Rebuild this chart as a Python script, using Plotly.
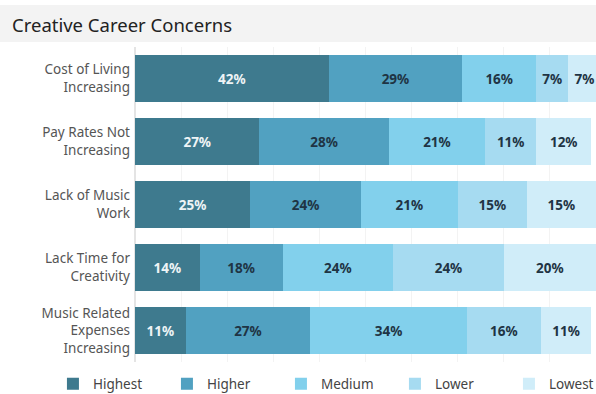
import plotly.graph_objects as go

categories = [
    "Cost of Living<br>Increasing",
    "Pay Rates Not<br>Increasing",
    "Lack of Music<br>Work",
    "Lack Time for<br>Creativity",
    "Music Related<br>Expenses<br>Increasing",
]
levels = ["Highest", "Higher", "Medium", "Lower", "Lowest"]
highest = [42, 27, 25, 14, 11]
higher = [29, 28, 24, 18, 27]
medium = [16, 21, 21, 24, 34]
lower = [7, 11, 15, 24, 16]
lowest = [7, 12, 15, 20, 11]
series = [highest, higher, medium, lower, lowest]

colors = ["#3e7a8e", "#51a1c1", "#82d0ec", "#a6dbf1", "#d0edf9"]
text_colors = ["#eef4f6", "#1f3444", "#1f3444", "#1f3444", "#1f3444"]

FONT = "Noto Sans"

fig = go.Figure()
for name, vals, col, tcol in zip(levels, series, colors, text_colors):
    fig.add_trace(go.Bar(
        y=categories, x=vals, name=name, orientation="h",
        marker=dict(color=col, line=dict(width=0)),
        text=[f"{v}%" for v in vals],
        textposition="inside", insidetextanchor="middle", textangle=0,
        insidetextfont=dict(family=FONT, size=13.5, color=tcol, weight="bold"),
        hoverinfo="skip",
    ))

fig.update_layout(
    width=596, height=394,
    barmode="stack", bargap=0.25,
    margin=dict(l=135, r=0, t=47, b=32, autoexpand=False),
    paper_bgcolor="white", plot_bgcolor="white",
    font=dict(family=FONT, color="#555555"),
    title=dict(text="Creative Career Concerns", x=12 / 596, xref="container", xanchor="left",
               y=1 - 26 / 394, yref="container", yanchor="middle",
               font=dict(family=FONT, size=18.5, color="#222222")),
    showlegend=True,
    legend=dict(orientation="h", x=-0.178, xanchor="left", y=-0.07, yanchor="middle",
                entrywidth=69, entrywidthmode="pixels", traceorder="normal",
                font=dict(family=FONT, size=13.5, color="#444444"), bgcolor="rgba(0,0,0,0)"),
    shapes=[dict(type="rect", xref="paper", yref="paper", x0=-135 / 461, x1=1.0,
                 y0=1 + 5 / 315, y1=1 + 42 / 315, fillcolor="#f3f3f3",
                 line=dict(width=0), layer="below")],
)
fig.update_xaxes(range=[0, 100], showticklabels=False, showgrid=True, gridcolor="#f3f3f3",
                 dtick=10, zeroline=True, zerolinecolor="#e4e4e4", fixedrange=True)
fig.update_yaxes(autorange="reversed", showgrid=False, ticks="", ticklabelstandoff=4,
                 tickfont=dict(family=FONT, size=13.5, color="#555555"), fixedrange=True)

fig.write_html("out.html")
